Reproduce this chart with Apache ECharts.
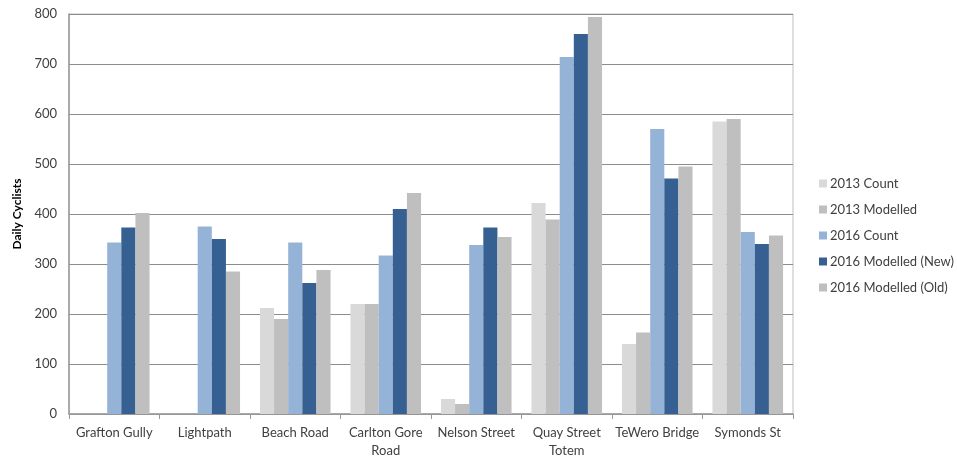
<!DOCTYPE html>
<html>
<head>
<meta charset="utf-8">
<script src="https://cdn.jsdelivr.net/npm/echarts@6/dist/echarts.min.js"></script>
<style>
  html, body { margin: 0; padding: 0; background: #fff; }
  #chart { width: 957px; height: 458px; }
</style>
</head>
<body>
<div id="chart"></div>
<script>
// categories and values
const sites = ['Grafton Gully', 'Lightpath', 'Beach Road', 'Carlton Gore\nRoad', 'Nelson Street', 'Quay Street\nTotem', 'TeWero Bridge', 'Symonds St'];
const count2013 = [null, null, 212, 220, 30, 422, 140, 585];
const modelled2013 = [null, null, 190, 220, 20, 389, 163, 590];
const count2016 = [343, 375, 343, 317, 338, 714, 570, 364];
const modelledNew2016 = [373, 350, 262, 410, 373, 760, 471, 340];
const modelledOld2016 = [402, 285, 288, 442, 354, 794, 495, 357];
const yTicks = [0, 100, 200, 300, 400, 500, 600, 700, 800];

const font = 'Lato, "Open Sans", sans-serif';
const textCol = '#404040';

// 每个系列
const mk = (name, data, color) => ({
  name: name,
  type: 'bar',
  data: data,
  barGap: '0%',
  barCategoryGap: '22%',
  itemStyle: { color: color },
  emphasis: { disabled: true }
});

const chart = echarts.init(document.getElementById('chart'));
chart.setOption({
  animation: false,
  textStyle: { fontFamily: font },
  grid: {
    left: 69, right: 164, top: 14, bottom: 44,
    outerBoundsMode: 'none',
    show: true, borderColor: '#bfbfbf', borderWidth: 1
  },
  legend: {
    orient: 'vertical',
    left: 814, top: 172,
    itemWidth: 8, itemHeight: 8,
    itemGap: 13,
    icon: 'rect',
    textStyle: { fontFamily: font, fontSize: 13, color: textCol, padding: [0, 0, 0, -2] },
    data: ['2013 Count', '2013 Modelled', '2016 Count', '2016 Modelled (New)', '2016 Modelled (Old)']
  },
  xAxis: {
    type: 'category',
    data: sites,
    axisLine: { lineStyle: { color: '#999', width: 1.5 } },
    axisTick: { show: true, length: 5, lineStyle: { color: '#999' } },
    axisLabel: { fontFamily: font, fontSize: 13, color: textCol, margin: 10, lineHeight: 18, interval: 0 }
  },
  yAxis: {
    type: 'value',
    min: yTicks[0], max: yTicks[yTicks.length - 1], interval: 100,
    name: 'Daily Cyclists',
    nameLocation: 'middle',
    nameGap: 40,
    nameTextStyle: { fontFamily: font, fontSize: 12, fontWeight: 'bold', color: '#000' },
    axisLine: { show: true, lineStyle: { color: '#999', width: 1.5 } },
    axisTick: { show: false },
    axisLabel: { fontFamily: font, fontSize: 13, color: textCol, margin: 12 },
    splitLine: { lineStyle: { color: '#8c8c8c', width: 1 } }
  },
  series: [
    mk('2013 Count', count2013, '#d9d9d9'),
    mk('2013 Modelled', modelled2013, '#bfbfbf'),
    mk('2016 Count', count2016, '#95b3d7'),
    mk('2016 Modelled (New)', modelledNew2016, '#366092'),
    mk('2016 Modelled (Old)', modelledOld2016, '#bfbfbf')
  ]
});
</script>
</body>
</html>
